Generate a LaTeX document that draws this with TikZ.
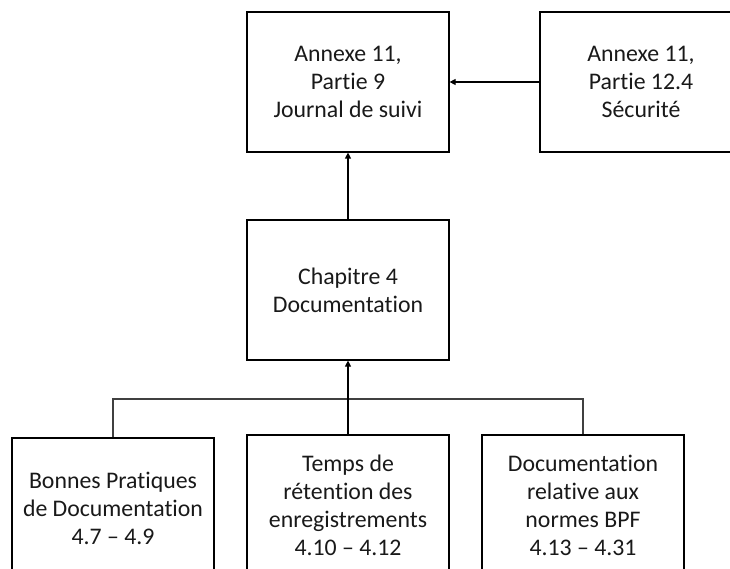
\documentclass[tikz,border=0pt]{standalone}
\usepackage{fontspec}
\setmainfont{Carlito}[Ligatures={NoCommon,NoContextual}]
\usetikzlibrary{arrows.meta}
\begin{document}
\begin{tikzpicture}[x=1pt,y=-1pt,
  box/.style={draw=black, line width=1.2pt, minimum width=202pt, minimum height=140pt,
    inner sep=0pt, align=center, text=black!90,
    font=\fontsize{23.8}{28}\selectfont},
  link/.style={draw=black, line width=1.2pt, -{Triangle[length=6pt,width=6pt]}},
  branch/.style={draw=black!75, line width=1.2pt}]
\useasboundingbox (0,0) rectangle (730,569);
\clip (0,0) rectangle (730,569);
% upper row
\node[box] (journal) at (348,82) {Annexe 11,\\Partie 9\\Journal de suivi};
\node[box] (securite) at (641,82) {Annexe 11,\\Partie 12.4\\Sécurité};
% chapter
\node[box] (chap) at (348,290) {Chapitre 4\\Documentation};
% lower row
\node[box] (bpd) at (113,508) {Bonnes Pratiques\\de Documentation\\4.7 – 4.9};
\node[box] (temps) at (348,505) {Temps de\\rétention des\\enregistrements\\4.10 – 4.12};
\node[box] (normes) at (583,505) {Documentation\\relative aux\\normes BPF\\4.13 – 4.31};
% connectors
\coordinate (junction) at (348,399);
\draw[link] (securite.west) -- (journal.east);
\draw[link] (chap.north) -- (journal.south);
\draw[branch] (bpd.north) |- (junction);
\draw[branch] (normes.north) |- (junction);
\draw[link] (temps.north) -- (chap.south);
\end{tikzpicture}
\end{document}
